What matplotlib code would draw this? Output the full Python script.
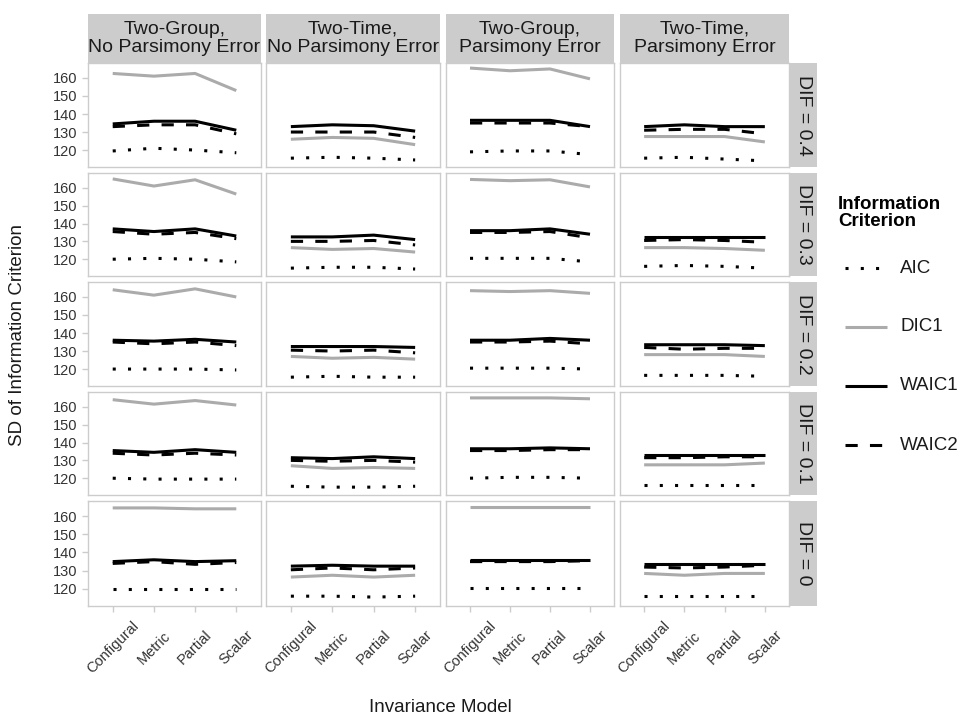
import matplotlib
matplotlib.use("Agg")
import matplotlib.pyplot as plt
from matplotlib.lines import Line2D

plt.rcParams['font.family'] = ['Liberation Sans', 'DejaVu Sans']

models = ["Configural", "Metric", "Partial", "Scalar"]
designs = ["Two-Group,\nNo Parsimony Error", "Two-Time,\nNo Parsimony Error",
           "Two-Group,\nParsimony Error", "Two-Time,\nParsimony Error"]
difs = ["DIF = 0.4", "DIF = 0.3", "DIF = 0.2", "DIF = 0.1", "DIF = 0"]
criteria = ["AIC", "DIC1", "WAIC1", "WAIC2"]

# values[dif][design] -> per criterion lists over models
aic = [
    [[119.5, 121, 120, 118.5], [115.5, 116, 115.5, 114.5], [119, 119.5, 119.5, 117.5], [115.5, 116, 115, 114]],
    [[120, 120.5, 120, 118.5], [115, 115.5, 115.5, 114.5], [120.5, 120.5, 120.5, 118.5], [116, 116.5, 116, 115]],
    [[120, 120, 120, 119.5], [115.5, 116, 115.5, 115.5], [120.5, 120.5, 120.5, 120], [116.5, 116.5, 116.5, 116]],
    [[120, 119.5, 119.5, 119.5], [115.5, 115, 115, 115.5], [120, 120.5, 120.5, 120], [116, 116, 116, 116]],
    [[120, 120, 120, 120], [116, 116, 115.5, 116], [120.5, 120.5, 120.5, 120.5], [116, 116, 116, 116]],
]
dic1 = [
    [[162.5, 161, 162.5, 153], [126, 127, 126.5, 123], [165.5, 164, 165, 159.5], [127.5, 127.5, 127.5, 124.5]],
    [[165, 161, 164.5, 156.5], [126.5, 125.5, 126, 124], [164.7, 164, 164.5, 160.5], [126.5, 126.5, 126, 125]],
    [[164, 161, 164.5, 160], [127, 126, 126.5, 125.5], [163.5, 163, 163.5, 162], [128, 128, 128, 127]],
    [[164, 161.5, 163.5, 161], [127, 125.5, 126, 125.5], [165, 165, 165, 164.5], [127.5, 127.5, 127.5, 128.5]],
    [[164.5, 164.5, 164, 164], [126.5, 127.5, 126.5, 127.5], [165, 165, 165, 165], [128.5, 127.5, 128.5, 128.5]],
]
waic1 = [
    [[134.5, 136, 136, 131], [133, 134, 133.5, 130.5], [136.5, 136.5, 136.5, 133], [133, 134, 133, 133]],
    [[137, 135.5, 137, 133], [132.5, 132.5, 133.5, 131], [136, 136, 137, 134], [132.5, 132.5, 132.5, 132.5]],
    [[136, 135.5, 136.5, 135], [132.5, 132.5, 132.5, 132], [136, 136, 137, 136], [133.5, 133.5, 133.5, 133]],
    [[135.5, 134.5, 136, 134.5], [131.5, 131, 132, 131], [136.5, 136.5, 137, 136.5], [133, 133, 133, 133]],
    [[135, 136, 135, 135.5], [132.5, 133, 132.5, 132.5], [136, 136, 136, 136], [133.5, 133.5, 133.5, 133.5]],
]
waic2 = [
    [[133, 134, 134, 129], [130, 130, 130, 127], [135, 135, 135, 133], [131, 131.5, 131.5, 129]],
    [[135.5, 134, 135, 131.5], [130, 130, 130.5, 128], [135, 135, 135.5, 132], [130.5, 131, 130.5, 129.5]],
    [[135, 134, 135, 133], [130.5, 130, 130.5, 129], [135, 135, 135.5, 134], [132, 131, 131.5, 131.5]],
    [[134, 133, 134, 133], [130, 129.5, 130, 129], [135.5, 135.5, 136, 136], [131.5, 131.5, 132, 132]],
    [[134, 135, 133.5, 134.5], [130.5, 131.5, 130.5, 131.5], [135, 135, 135, 135.5], [132, 131.5, 132, 133]],
]
series = {"AIC": aic, "DIC1": dic1, "WAIC1": waic1, "WAIC2": waic2}

lw = 2.2
styles = {
    "AIC": dict(color="black", linestyle=(0, (1, 4)), linewidth=lw),
    "DIC1": dict(color="#ABABAB", linestyle="-", linewidth=lw),
    "WAIC1": dict(color="black", linestyle="-", linewidth=lw),
    "WAIC2": dict(color="black", linestyle=(0, (4, 4)), linewidth=lw),
}

W, H = 973, 719
fig = plt.figure(figsize=(W / 100, H / 100), dpi=100)

col_left = [88, 266, 446, 620]
col_right = [261, 440, 614, 789]
row_top = [63, 173, 282, 392, 501]
row_bot = [167, 276, 386, 495, 606]
strip_top = 14
strip_right = 817

def rect(x0, y0, x1, y1):
    return [x0 / W, 1 - y1 / H, (x1 - x0) / W, (y1 - y0) / H]

xs = list(range(1, len(models) + 1))
border = "#CCCCCC"
tick_col = "#333333"

for r in range(len(difs)):
    for c in range(len(designs)):
        ax = fig.add_axes(rect(col_left[c], row_top[r], col_right[c], row_bot[r]))
        for crit in criteria:
            ax.plot(xs, series[crit][r][c], solid_capstyle="butt",
                    dash_capstyle="butt", **styles[crit])
        ax.set_xlim(0.4, 4.6)
        ax.set_ylim(110.6, 168.3)
        for sp in ax.spines.values():
            sp.set_color(border)
            sp.set_linewidth(1.0)
        ax.set_xticks(xs)
        ax.set_yticks([120, 130, 140, 150, 160])
        ax.tick_params(colors=border, length=4, width=1, labelcolor=tick_col)
        if c == 0:
            ax.set_yticklabels([str(v) for v in [120, 130, 140, 150, 160]], fontsize=10.5)
        else:
            ax.tick_params(axis="y", left=False, labelleft=False)
        if r == len(difs) - 1:
            ax.set_xticklabels(models, rotation=45, ha="center", va="center",
                               rotation_mode="anchor", fontsize=10.5)
            ax.tick_params(axis="x", pad=26)
        else:
            ax.tick_params(axis="x", bottom=False, labelbottom=False)

        if r == 0:
            sax = fig.add_axes(rect(col_left[c], strip_top, col_right[c], row_top[0] - 0.5))
            sax.set_facecolor("#CCCCCC")
            sax.set_xticks([]); sax.set_yticks([])
            for sp in sax.spines.values():
                sp.set_visible(False)
            sax.text(0.5, 0.5, designs[c], ha="center", va="center", fontsize=14,
                     color="#1A1A1A", linespacing=1.08, transform=sax.transAxes)
        if c == len(designs) - 1:
            rax = fig.add_axes(rect(col_right[c] + 1, row_top[r], strip_right, row_bot[r]))
            rax.set_facecolor("#CCCCCC")
            rax.set_xticks([]); rax.set_yticks([])
            for sp in rax.spines.values():
                sp.set_visible(False)
            rax.text(0.5, 0.5, difs[r], ha="center", va="center", fontsize=14,
                     rotation=-90, color="#1A1A1A", transform=rax.transAxes)

fig.text(440 / W, 1 - 708 / H, "Invariance Model", ha="center", va="center", fontsize=13.5,
         color="#1A1A1A")
fig.text(18 / W, 1 - 335 / H, "SD of Information Criterion", ha="center", va="center",
         rotation=90, fontsize=13.5, color="#1A1A1A")

# legend
fig.text(838 / W, 1 - 213 / H, "Information\nCriterion", ha="left", va="center",
         fontsize=13.5, fontweight="bold", linespacing=1.0)
leg_y = [268, 327, 386, 445]
for crit, y in zip(criteria, leg_y):
    fig.add_artist(Line2D([845 / W, 887 / W], [1 - y / H, 1 - y / H],
                          transform=fig.transFigure, solid_capstyle="butt",
                          dash_capstyle="butt", **styles[crit]))
    fig.text(900 / W, 1 - y / H, crit, ha="left", va="center", fontsize=13.5, color="#1A1A1A")

fig.savefig("out.png", dpi=100)
